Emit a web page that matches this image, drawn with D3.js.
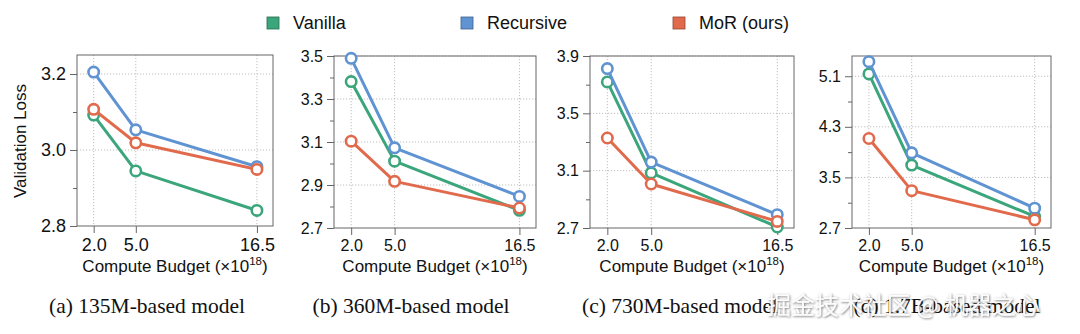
<!DOCTYPE html>
<html>
<head>
<meta charset="utf-8">
<script src="https://cdn.jsdelivr.net/npm/d3@7"></script>
<style>
  html, body { margin: 0; padding: 0; background: #fff; }
  svg { display: block; }
</style>
</head>
<body>
<svg id="chart" width="1080" height="334"></svg>
<script>
// Compute budgets (x10^18 FLOPs) and their tick labels
const budgets = [2.0, 5.0, 16.5];
const budgetLabels = ["2.0", "5.0", "16.5"];

// Series
const seriesNames = ["Vanilla", "Recursive", "MoR (ours)"];
const seriesColors = ["#3ba57b", "#5f93d2", "#e16a4c"];

// Validation loss per model size
const vanilla135M   = [3.092, 2.945, 2.841];
const recursive135M = [3.205, 3.053, 2.956];
const mor135M       = [3.107, 3.019, 2.949];

const vanilla360M   = [3.381, 3.011, 2.782];
const recursive360M = [3.489, 3.073, 2.847];
const mor360M       = [3.104, 2.917, 2.793];

const vanilla730M   = [3.719, 3.084, 2.707];
const recursive730M = [3.812, 3.160, 2.793];
const mor730M       = [3.328, 3.007, 2.746];

const vanilla1_7B   = [5.137, 3.695, 2.882];
const recursive1_7B = [5.330, 3.889, 3.014];
const mor1_7B       = [4.115, 3.291, 2.830];

// Y tick labels per panel
const yTicks135M = [2.8, 3.0, 3.2];
const yTicks360M = [2.7, 2.9, 3.1, 3.3, 3.5];
const yTicks730M = [2.7, 3.1, 3.5, 3.9];
const yTicks1_7B = [2.7, 3.5, 4.3, 5.1];

const yMinor135M = [2.9, 3.1];
const yMinor360M = [2.8, 3.0, 3.2, 3.4];
const yMinor730M = [2.9, 3.3, 3.7];
const yMinor1_7B = [3.1, 3.9, 4.7];

const yDomain135M = [2.8, 3.25];
const yDomain360M = [2.7, 3.5];
const yDomain730M = [2.7, 3.9];
const yDomain1_7B = [2.7, 5.42];

const captions = ["(a) 135M-based model", "(b) 360M-based model",
                  "(c) 730M-based model", "(d) 1.7B-based model"];

const panels = [
  { series: [vanilla135M, recursive135M, mor135M], ticks: yTicks135M, minor: yMinor135M, domain: yDomain135M },
  { series: [vanilla360M, recursive360M, mor360M], ticks: yTicks360M, minor: yMinor360M, domain: yDomain360M },
  { series: [vanilla730M, recursive730M, mor730M], ticks: yTicks730M, minor: yMinor730M, domain: yDomain730M },
  { series: [vanilla1_7B, recursive1_7B, mor1_7B], ticks: yTicks1_7B, minor: yMinor1_7B, domain: yDomain1_7B }
];

// Layout of each subplot frame
const frames = [
  { left: 77,  right: 273,  top: 55, bottom: 226, fs: 18, capX: 147 },
  { left: 334, right: 536,  top: 56, bottom: 228, fs: 16, capX: 411 },
  { left: 590, right: 794,  top: 56, bottom: 228, fs: 16, capX: 680 },
  { left: 852, right: 1051, top: 56, bottom: 228, fs: 16, capX: 947 }
];
const xFrac = [0.085, 0.30, 0.918];

const svg = d3.select("#chart");
const sans = "Liberation Sans, Arial, Helvetica, sans-serif";

// Watermark shadow filter
const defs = svg.append("defs");
const f = defs.append("filter").attr("id", "wmShadow")
  .attr("x", "-10%").attr("y", "-30%").attr("width", "120%").attr("height", "160%");
f.append("feDropShadow").attr("dx", 0.8).attr("dy", 0.8).attr("stdDeviation", 0.9)
  .attr("flood-color", "#555").attr("flood-opacity", 0.9);

// Legend
const legendX = [267, 461, 673];
seriesNames.forEach((name, i) => {
  const g = svg.append("g").attr("transform", `translate(${legendX[i]},17)`);
  g.append("rect").attr("width", 12).attr("height", 12)
    .attr("fill", seriesColors[i]).attr("stroke", d3.color(seriesColors[i]).darker(1.2)).attr("stroke-width", 0.8);
  g.append("text").attr("x", 26).attr("y", 12).attr("font-family", sans)
    .attr("font-size", 18).attr("fill", "#111").text(name);
});

panels.forEach((p, pi) => {
  const fr = frames[pi];
  const w = fr.right - fr.left;
  const x = d3.scaleLinear().domain(budgets).range(xFrac.map(t => fr.left + t * w));
  const y = d3.scaleLinear().domain(p.domain).range([fr.bottom, fr.top]);
  const g = svg.append("g");

  // grid
  g.selectAll(".hgrid").data(p.ticks.filter(t => t > p.domain[0])).enter().append("line")
    .attr("x1", fr.left).attr("x2", fr.right).attr("y1", d => y(d)).attr("y2", d => y(d))
    .attr("stroke", "#b8b8b8").attr("stroke-width", 0.9).attr("stroke-dasharray", "1.2,1.8");
  g.selectAll(".vgrid").data(budgets).enter().append("line")
    .attr("x1", d => x(d)).attr("x2", d => x(d)).attr("y1", fr.top).attr("y2", fr.bottom)
    .attr("stroke", "#b8b8b8").attr("stroke-width", 0.9).attr("stroke-dasharray", "1.2,1.8");

  // frame
  g.append("rect").attr("x", fr.left).attr("y", fr.top).attr("width", w).attr("height", fr.bottom - fr.top)
    .attr("fill", "none").attr("stroke", "#666").attr("stroke-width", 1);

  // y axis
  const yAxis = d3.axisLeft(y).tickValues(p.ticks).tickFormat(d3.format(".1f")).tickSize(7).tickPadding(4);
  const ya = g.append("g").attr("transform", `translate(${fr.left},0)`).call(yAxis);
  const yMinor = d3.axisLeft(y).tickValues(p.minor).tickFormat("").tickSize(4);
  const ym = g.append("g").attr("transform", `translate(${fr.left},0)`).call(yMinor);

  // x axis
  const xAxis = d3.axisBottom(x).tickValues(budgets).tickFormat((d, i) => budgetLabels[i]).tickSize(7).tickPadding(5);
  const xa = g.append("g").attr("transform", `translate(0,${fr.bottom})`).call(xAxis);

  [ya, ym, xa].forEach(a => {
    a.select(".domain").remove();
    a.selectAll(".tick line").attr("stroke", "#666");
    a.selectAll("text").attr("font-family", sans).attr("font-size", fr.fs).attr("fill", "#111");
  });

  // x label
  const xl = g.append("text").attr("x", (fr.left + fr.right) / 2).attr("y", 272)
    .attr("text-anchor", "middle").attr("font-family", sans).attr("font-size", 17).attr("fill", "#111");
  xl.append("tspan").text("Compute Budget (×10");
  xl.append("tspan").attr("font-size", 11.5).attr("dy", -7).text("18");
  xl.append("tspan").attr("dy", 7).text(")");

  // series
  p.series.forEach((vals, si) => {
    const pts = budgets.map((b, k) => [x(b), y(vals[k])]);
    g.append("path").attr("d", d3.line()(pts)).attr("fill", "none")
      .attr("stroke", seriesColors[si]).attr("stroke-width", 3).attr("stroke-linejoin", "round");
    g.selectAll(null).data(pts).enter().append("circle")
      .attr("cx", d => d[0]).attr("cy", d => d[1]).attr("r", 5.2)
      .attr("fill", "#fff").attr("stroke", seriesColors[si]).attr("stroke-width", 2.6);
  });

  // caption
  svg.append("text").attr("x", fr.capX).attr("y", 313).attr("text-anchor", "middle")
    .attr("font-family", "Liberation Serif, Times New Roman, serif").attr("font-size", 21.5)
    .attr("fill", "#111").text(captions[pi]);
});

// y label
svg.append("text").attr("transform", "translate(26,141) rotate(-90)").attr("text-anchor", "middle")
  .attr("font-family", sans).attr("font-size", 17).attr("fill", "#111").text("Validation Loss");

// watermark
svg.append("text").attr("x", 767).attr("y", 314).attr("textLength", 273).attr("lengthAdjust", "spacing")
  .attr("font-family", "Noto Sans CJK SC, sans-serif").attr("font-size", 24)
  .attr("fill", "#fff").attr("fill-opacity", 0.92).attr("filter", "url(#wmShadow)")
  .text("掘金技术社区 @ 机器之心");
</script>
</body>
</html>
